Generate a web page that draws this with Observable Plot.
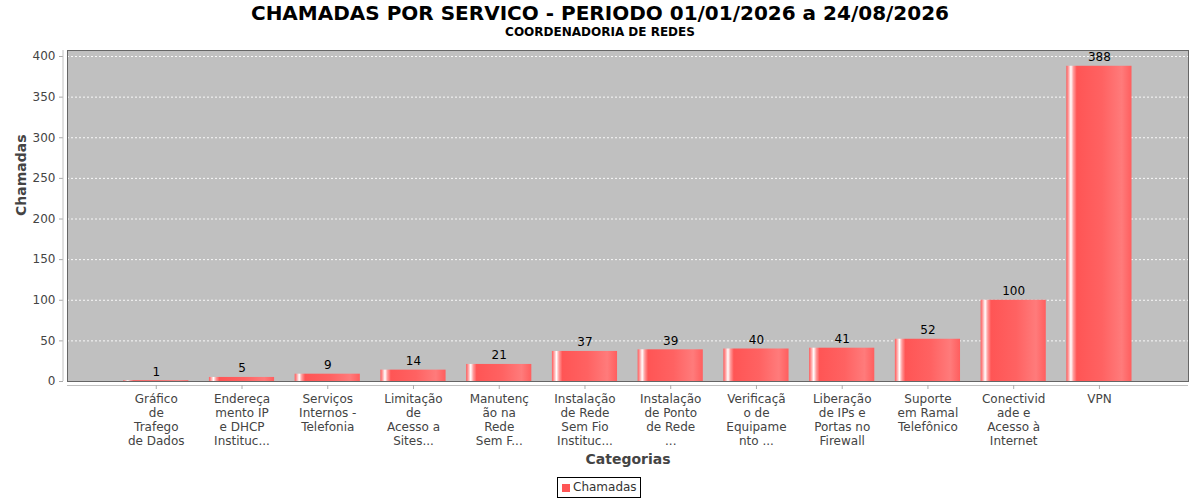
<!DOCTYPE html>
<html>
<head>
<meta charset="utf-8">
<script src="https://cdn.jsdelivr.net/npm/d3@7"></script>
<script src="https://cdn.jsdelivr.net/npm/@observablehq/plot@0.6"></script>
<style>
  html, body { margin: 0; padding: 0; background: #fff; }
  body { width: 1200px; height: 500px; position: relative; overflow: hidden; font-family: "DejaVu Sans", sans-serif; }
  .title { position: absolute; left: 0; width: 1200px; text-align: center; font-weight: bold; color: #000; white-space: nowrap; }
  #t1 { top: 1px; font-size: 20px; line-height: 25px; }
  #t2 { top: 25px; font-size: 12px; line-height: 14px; }
  #chart { position: absolute; left: 0; top: 42px; }
  #legend { position: absolute; left: 557px; top: 477px; width: 82px; height: 19px; border: 1px solid #000; font-size: 12px; color: #333; box-sizing: content-box; }
  #legend .sw { position: absolute; left: 4px; top: 6px; width: 8px; height: 8px; background: #ff5555; }
  #legend .lb { position: absolute; left: 15px; top: 2px; line-height: 15px; }
</style>
</head>
<body>
<div class="title" id="t1">CHAMADAS POR SERVICO - PERIODO 01/01/2026 a 24/08/2026</div>
<div class="title" id="t2">COORDENADORIA DE REDES</div>
<div id="chart"></div>
<div id="legend"><div class="sw"></div><div class="lb">Chamadas</div></div>
<script>
const categories = [
  "Gráfico\nde\nTrafego\nde Dados",
  "Endereça\nmento IP\ne DHCP\nInstituc...",
  "Serviços\nInternos -\nTelefonia",
  "Limitação\nde\nAcesso a\nSites...",
  "Manutenç\não na\nRede\nSem F...",
  "Instalação\nde Rede\nSem Fio\nInstituc...",
  "Instalação\nde Ponto\nde Rede\n...",
  "Verificaçã\no de\nEquipame\nnto ...",
  "Liberação\nde IPs e\nPortas no\nFirewall",
  "Suporte\nem Ramal\nTelefônico",
  "Conectivid\nade e\nAcesso à\nInternet",
  "VPN"
];
const chamadas = [1, 5, 9, 14, 21, 37, 39, 40, 41, 52, 100, 388];
const yTicks = [0, 50, 100, 150, 200, 250, 300, 350, 400];

const data = categories.map((c, i) => ({categoria: c, chamadas: chamadas[i]}));
const yMax = d3.max(chamadas) * 1.05;

const chart = Plot.plot({
  width: 1200,
  height: 430,
  marginLeft: 67,
  marginRight: 12,
  marginTop: 8,
  marginBottom: 91,
  style: {fontFamily: "DejaVu Sans, sans-serif", fontSize: "12px", background: "transparent", overflow: "visible"},
  x: {domain: categories, range: [112.9, 1141.8], paddingInner: 0.24, paddingOuter: 0.12, round: false, label: null},
  y: {domain: [0, yMax], label: null},
  marks: [
    Plot.frame({fill: "#c0c0c0", stroke: null}),
    Plot.gridY(yTicks, {stroke: "#ffffff", strokeOpacity: 0.9, strokeDasharray: "2,2", strokeWidth: 1}),
    Plot.barY(data, {x: "categoria", y: "chamadas", fill: "url(#barGrad)"}),
    Plot.text(data, {x: "categoria", y: "chamadas", text: d => String(d.chamadas), lineAnchor: "bottom", dy: -5, fill: "#000", fontSize: 12}),
    Plot.frame({stroke: "#666", fill: null}),
    Plot.ruleY([0], {dy: 4, stroke: "#c0c0c0"}),
    Plot.axisY(yTicks, {tickSize: 4, dx: -4, tickPadding: 4, fill: "#444", stroke: "#aaa", fontSize: 12, label: null}),
    Plot.axisX({tickSize: 4, dy: 4, tickPadding: 4, fill: "#444", stroke: "#aaa", fontSize: 12, lineHeight: 14/12, label: null, textOverflow: null}),
    Plot.text(["Chamadas"], {frameAnchor: "left", dx: -46, rotate: -90, fontWeight: "bold", fontSize: 14, fill: "#444", text: d => d}),
    Plot.text(["Categorias"], {frameAnchor: "bottom", dy: 82, lineAnchor: "bottom", fontWeight: "bold", fontSize: 14, fill: "#444", text: d => d})
  ]
});

// gradient definition for the bars
const svg = d3.select(chart);
const defs = svg.insert("defs", ":first-child");
const g = defs.append("linearGradient").attr("id", "barGrad").attr("x1", "0").attr("y1", "0").attr("x2", "1").attr("y2", "0");
[
  [0, "#ff5a5a"], [0.03, "#ff9a9a"], [0.07, "#ffffff"], [0.11, "#ff9a9a"], [0.16, "#ff5555"],
  [0.55, "#ff6262"], [0.85, "#ff7b7b"], [1, "#ff5e5e"]
].forEach(([o, c]) => g.append("stop").attr("offset", o).attr("stop-color", c));

// y axis line (left of plot, like the tick marks)
svg.append("line")
  .attr("x1", 63).attr("x2", 63)
  .attr("y1", 8).attr("y2", 339)
  .attr("stroke", "#c0c0c0");

document.getElementById("chart").appendChild(chart);
</script>
</body>
</html>
